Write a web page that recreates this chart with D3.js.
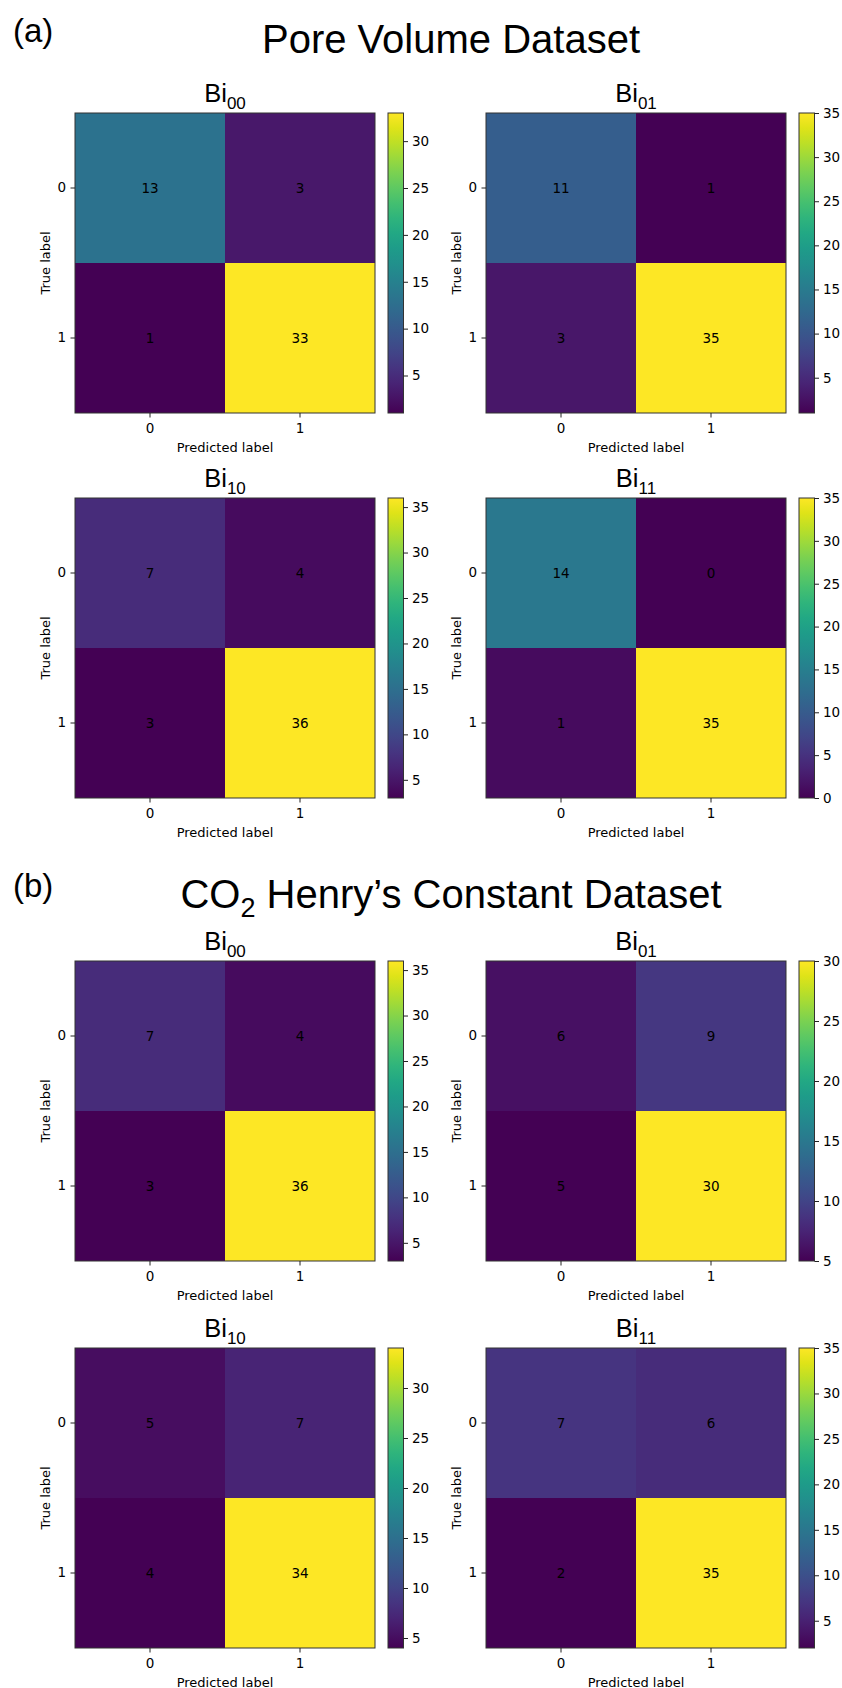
<!DOCTYPE html>
<html>
<head>
<meta charset="utf-8">
<script src="https://cdn.jsdelivr.net/npm/d3@7"></script>
<style>
body { margin: 0; background: #fff; }
</style>
</head>
<body>
<div id="corpo"></div>
<script>
// class labels of the confusion matrices
var classLabels = [0, 1];
// subscripts of the panel titles (Bi00, Bi01, Bi10, Bi11)
var panelNames = ["00", "01", "10", "11"];
// rows = true label, cols = predicted label
var poreVolume = [
    [[13, 3], [1, 33]],
    [[11, 1], [3, 35]],
    [[7, 4], [3, 36]],
    [[14, 0], [1, 35]]
];
var co2Henry = [
    [[7, 4], [3, 36]],
    [[6, 9], [5, 30]],
    [[5, 7], [4, 34]],
    [[7, 6], [2, 35]]
];

var width = 842, height = 1688;
var size = 300;
var colLeft = [75, 486];
var rowTop = [113, 498, 961, 1348];
var tickFont = "'DejaVu Sans', sans-serif";
var titleFont = "'Liberation Sans', Arial, sans-serif";

var svg = d3.select("#corpo").append("svg")
    .attr("width", width)
    .attr("height", height)
    .style("background", "#fff");

// one gradient for all colorbars (min at bottom, max at top)
var grad = svg.append("defs").append("linearGradient")
    .attr("id", "viridis")
    .attr("x1", 0).attr("y1", 1).attr("x2", 0).attr("y2", 0);
d3.range(0, 1.0001, 0.05).forEach(function(t){
    grad.append("stop")
        .attr("offset", t)
        .attr("stop-color", d3.interpolateViridis(t));
});

// section headings
function heading(letter, y, parts){
    svg.append("text")
        .attr("x", 13).attr("y", y - 11)
        .style("font-family", titleFont)
        .style("font-size", "33px")
        .text("(" + letter + ")");
    var t = svg.append("text")
        .attr("x", 451).attr("y", y)
        .attr("text-anchor", "middle")
        .style("font-family", titleFont)
        .style("font-size", "40px");
    parts.forEach(function(p){
        t.append("tspan")
            .attr("dy", p.dy || 0)
            .style("font-size", p.size || null)
            .text(p.text);
    });
}
heading("a", 53, [{text: "Pore Volume Dataset"}]);
heading("b", 908, [
    {text: "CO"},
    {text: "2", dy: 9, size: "27px"},
    {text: " Henry\u2019s Constant Dataset", dy: -9}
]);

function drawPanel(matrix, name, left, top){
    var flat = d3.merge(matrix);
    var vmin = d3.min(flat), vmax = d3.max(flat);
    var color = d3.scaleSequential(d3.interpolateViridis).domain([vmin, vmax]);
    var x = d3.scaleBand().domain(classLabels).range([0, size]);
    var y = d3.scaleBand().domain(classLabels).range([0, size]);

    var g = svg.append("g").attr("transform", "translate(" + left + "," + top + ")");

    var cells = [];
    matrix.forEach(function(row, i){
        row.forEach(function(v, j){
            cells.push({r: classLabels[i], c: classLabels[j], v: v});
        });
    });

    g.selectAll(".cell").data(cells).enter().append("rect")
        .attr("class", "cell")
        .attr("x", function(d){ return x(d.c); })
        .attr("y", function(d){ return y(d.r); })
        .attr("width", x.bandwidth())
        .attr("height", y.bandwidth())
        .style("fill", function(d){ return color(d.v); });

    g.selectAll(".val").data(cells).enter().append("text")
        .attr("x", function(d){ return x(d.c) + x.bandwidth() / 2; })
        .attr("y", function(d){ return y(d.r) + y.bandwidth() / 2; })
        .attr("dy", "0.36em")
        .attr("text-anchor", "middle")
        .style("font-family", tickFont)
        .style("font-size", "13.5px")
        .style("fill", "#000")
        .text(function(d){ return d.v; });

    g.append("rect")
        .attr("width", size).attr("height", size)
        .style("fill", "none").style("stroke", "#333").style("stroke-width", 1);

    var xAxis = g.append("g")
        .attr("transform", "translate(0," + size + ")")
        .call(d3.axisBottom(x).tickSize(4.5).tickPadding(5.5));
    var yAxis = g.append("g")
        .call(d3.axisLeft(y).tickSize(4.5).tickPadding(4.5));
    [xAxis, yAxis].forEach(function(a){
        a.select(".domain").remove();
        a.selectAll("text").style("font-family", tickFont).style("font-size", "13.5px").style("fill", "#000");
        a.selectAll("line").style("stroke", "#222");
    });

    g.append("text")
        .attr("x", size / 2).attr("y", size + 38.5)
        .attr("text-anchor", "middle")
        .style("font-family", tickFont).style("font-size", "13px")
        .text("Predicted label");
    g.append("text")
        .attr("transform", "translate(-25," + size / 2 + ") rotate(-90)")
        .attr("text-anchor", "middle")
        .style("font-family", tickFont).style("font-size", "13px")
        .text("True label");

    // title Bi with subscript
    var title = g.append("text")
        .attr("x", size / 2).attr("y", -11)
        .attr("text-anchor", "middle")
        .style("font-family", titleFont)
        .style("font-size", "25.5px");
    title.append("tspan").text("Bi");
    title.append("tspan").attr("dy", 7).style("font-size", "17px").text(name);

    // colorbar
    var cb = g.append("g").attr("transform", "translate(" + (size + 13) + ",0)");
    var cbScale = d3.scaleLinear().domain([vmin, vmax]).range([size, 0]);
    cb.append("rect")
        .attr("width", 15.5).attr("height", size)
        .style("fill", "url(#viridis)")
        .style("stroke", "#333").style("stroke-width", 1);
    var cbAxis = cb.append("g")
        .attr("transform", "translate(15.5,0)")
        .call(d3.axisRight(cbScale).ticks(6).tickSize(4.5).tickPadding(4));
    cbAxis.select(".domain").remove();
    cbAxis.selectAll("text").style("font-family", tickFont).style("font-size", "13.5px").style("fill", "#000");
    cbAxis.selectAll("line").style("stroke", "#222");
}

poreVolume.forEach(function(m, k){
    drawPanel(m, panelNames[k], colLeft[k % 2], rowTop[Math.floor(k / 2)]);
});
co2Henry.forEach(function(m, k){
    drawPanel(m, panelNames[k], colLeft[k % 2], rowTop[2 + Math.floor(k / 2)]);
});
</script>
</body>
</html>
